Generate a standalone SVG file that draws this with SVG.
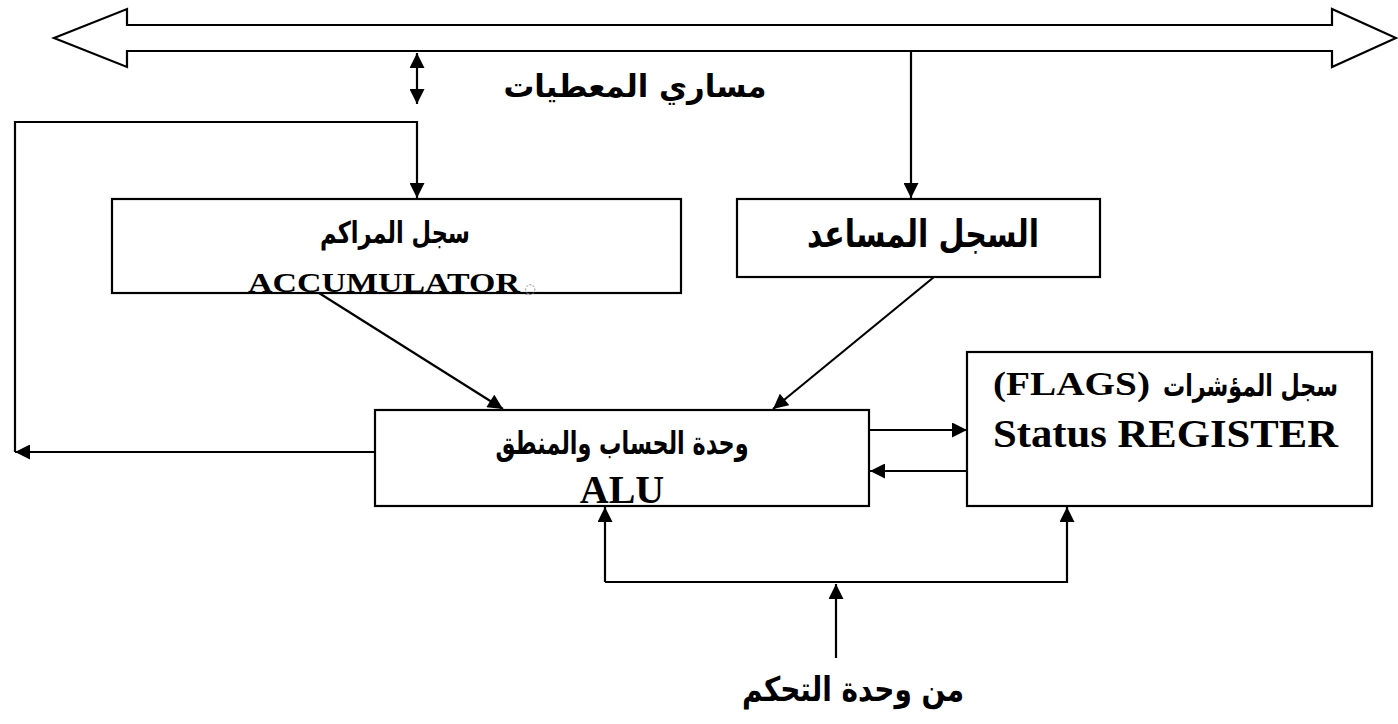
<svg xmlns="http://www.w3.org/2000/svg" width="1398" height="724" viewBox="0 0 1398 724">
<defs>
<marker id="arr" viewBox="0 0 10 10" refX="10" refY="5" markerUnits="userSpaceOnUse" markerWidth="16" markerHeight="15" orient="auto-start-reverse">
<path d="M0,0 L10,5 L0,10 z" fill="#000"/>
</marker>
<style>
.box{fill:#fff;stroke:#000;stroke-width:2.2}
.ln{fill:none;stroke:#000;stroke-width:2.2}
.ar{font-family:"DejaVu Sans",sans-serif;font-weight:bold;fill:#000}
.lat{font-family:"Liberation Serif","DejaVu Serif",serif;font-weight:bold;fill:#000}
</style>
</defs>
<rect width="1398" height="724" fill="#fff"/>
<g id="bus">
<polygon class="box" points="54,38 127,9 127,25 1332,25 1332,9 1396,38 1332,67 1332,51 127,51 127,67"/>
<text class="ar" x="635" y="97" font-size="31" direction="rtl" text-anchor="middle" textLength="263" lengthAdjust="spacingAndGlyphs">مساري المعطيات</text>
</g>
<g id="connectors">
<line class="ln" x1="417" y1="53" x2="417" y2="104" marker-start="url(#arr)" marker-end="url(#arr)"/>
<line class="ln" x1="911" y1="51" x2="911" y2="198" marker-end="url(#arr)"/>
<polyline class="ln" points="15,452 15,122 417,122 417,198" marker-end="url(#arr)"/>
<line class="ln" x1="375" y1="452" x2="15" y2="452" marker-end="url(#arr)"/>
<line class="ln" x1="319" y1="293" x2="503" y2="409" marker-end="url(#arr)"/>
<line class="ln" x1="934" y1="277" x2="773" y2="409" marker-end="url(#arr)"/>
<line class="ln" x1="869" y1="430" x2="967" y2="430" marker-end="url(#arr)"/>
<line class="ln" x1="967" y1="471" x2="870" y2="471" marker-end="url(#arr)"/>
<line class="ln" x1="605" y1="582" x2="605" y2="507" marker-end="url(#arr)"/>
<polyline class="ln" points="605,582 1067,582 1067,507" marker-end="url(#arr)"/>
<line class="ln" x1="836" y1="658" x2="836" y2="584" marker-end="url(#arr)"/>
</g>
<g id="accumulator">
<rect class="box" x="112" y="199" width="569" height="94"/>
<text class="ar" x="395" y="243" font-size="30" direction="rtl" text-anchor="middle" textLength="150" lengthAdjust="spacingAndGlyphs">سجل المراكم</text>
<text class="lat" x="248" y="292" font-size="28" textLength="272" lengthAdjust="spacingAndGlyphs">ACCUMULATOR</text>
<text x="530" y="293" font-family="DejaVu Sans,sans-serif" font-size="13" fill="#777" text-anchor="middle">◌ِ</text>
</g>
<g id="auxiliary">
<rect class="box" x="737" y="199" width="363" height="78"/>
<text class="ar" x="923" y="247" font-size="38" direction="rtl" text-anchor="middle" textLength="232" lengthAdjust="spacingAndGlyphs">السجل المساعد</text>
</g>
<g id="alu">
<rect class="box" x="375" y="410" width="494" height="96"/>
<text class="ar" x="622" y="454" font-size="32" direction="rtl" text-anchor="middle" textLength="253" lengthAdjust="spacingAndGlyphs">وحدة الحساب والمنطق</text>
<text class="lat" x="622" y="503" font-size="40" text-anchor="middle">ALU</text>
</g>
<g id="flags">
<rect class="box" x="967" y="352" width="405" height="154"/>
<text class="ar" x="1338" y="396" font-size="30" direction="rtl" text-anchor="start" textLength="175" lengthAdjust="spacingAndGlyphs">سجل المؤشرات</text>
<text class="lat" x="993" y="395" font-size="34" textLength="157" lengthAdjust="spacingAndGlyphs">(FLAGS)</text>
<text class="lat" x="993" y="447" font-size="40" textLength="345" lengthAdjust="spacingAndGlyphs">Status REGISTER</text>
</g>
<g id="control">
<text class="ar" x="853" y="701" font-size="34" direction="rtl" text-anchor="middle" textLength="222" lengthAdjust="spacingAndGlyphs">من وحدة التحكم</text>
</g>
</svg>
